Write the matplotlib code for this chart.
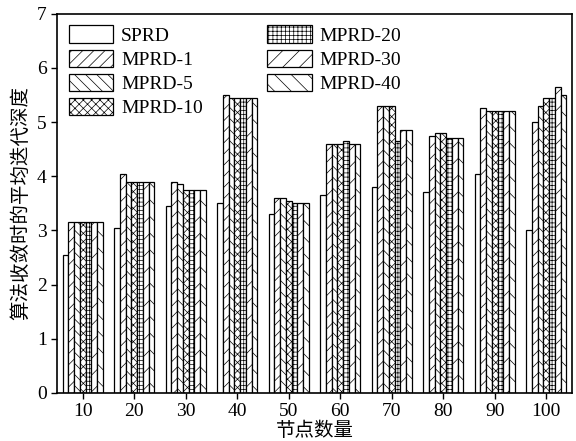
import numpy as np
import matplotlib
matplotlib.use("Agg")
import matplotlib.pyplot as plt

plt.rcParams['font.family'] = ['Liberation Serif', 'Noto Sans CJK SC']
plt.rcParams['hatch.linewidth'] = 0.5

nodes = [10, 20, 30, 40, 50, 60, 70, 80, 90, 100]
series = ["SPRD", "MPRD-1", "MPRD-5", "MPRD-10", "MPRD-20", "MPRD-30", "MPRD-40"]
sprd = [2.55, 3.05, 3.45, 3.5, 3.3, 3.65, 3.8, 3.7, 4.05, 3.0]
mprd_1 = [3.15, 4.05, 3.9, 5.5, 3.6, 4.6, 5.3, 4.75, 5.25, 5.0]
mprd_5 = [3.15, 3.9, 3.85, 5.45, 3.6, 4.6, 5.3, 4.8, 5.2, 5.3]
mprd_10 = [3.15, 3.9, 3.75, 5.45, 3.55, 4.6, 5.3, 4.8, 5.2, 5.45]
mprd_20 = [3.15, 3.9, 3.75, 5.45, 3.5, 4.65, 4.65, 4.7, 5.2, 5.45]
mprd_30 = [3.15, 3.9, 3.75, 5.45, 3.5, 4.6, 4.85, 4.7, 5.2, 5.65]
mprd_40 = [3.15, 3.9, 3.75, 5.45, 3.5, 4.6, 4.85, 4.7, 5.2, 5.5]

values = [sprd, mprd_1, mprd_5, mprd_10, mprd_20, mprd_30, mprd_40]
hatches = ["", "///", "\\\\\\", "xxxx", "++++", "//", "\\\\"]

fig = plt.figure(figsize=(5.76, 4.41), dpi=100)
ax = fig.add_axes([0.099, 0.109, 0.894, 0.86])

w = 1.12
x = np.array(nodes, dtype=float)
for i, (name, vals, h) in enumerate(zip(series, values, hatches)):
    ax.bar(x + (i - 3) * w, vals, width=w, color="white", edgecolor="black",
           linewidth=0.9, hatch=h, label=name)

ax.set_xlim(5, 105)
ax.set_ylim(0, 7)
ax.set_xticks(nodes)
ax.set_yticks(range(0, 8))
ax.tick_params(labelsize=14, direction="out", length=4, width=1)
for s in ax.spines.values():
    s.set_linewidth(1.2)

ax.set_xlabel("节点数量", fontsize=14, family=['Noto Sans CJK SC'], labelpad=0)
ax.set_ylabel("算法收敛时的平均迭代深度", fontsize=14, family=['Noto Sans CJK SC'], labelpad=4)

ax.legend(loc="upper left", ncol=2, frameon=False, fontsize=14,
          handlelength=2.3, handleheight=1.0, labelspacing=0.25,
          handletextpad=0.4, columnspacing=3.3, borderaxespad=0.2)

fig.savefig("out.png", dpi=100)
